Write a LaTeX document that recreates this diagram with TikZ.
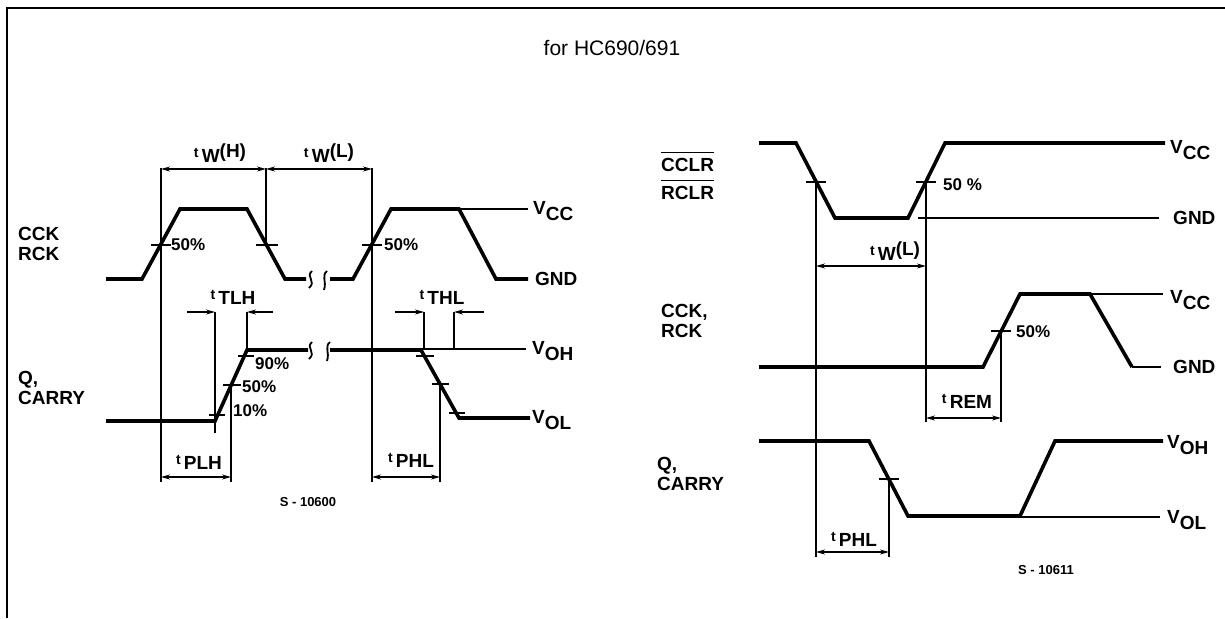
\documentclass[tikz,border=0pt]{standalone}
\usepackage{fontspec}
\setmainfont{Liberation Sans}
\usetikzlibrary{arrows.meta,calc}

\newcommand\lvl[2]{#1\raisebox{-0.55ex}{#2}}
\newcommand\tsub[1]{{\fontsize{14}{14}\selectfont t}\,\raisebox{-0.5ex}{#1}}

\begin{document}
\begin{tikzpicture}[x=1pt, y=-1pt,
    wave/.style={line width=3.6pt, line join=miter},
    thinline/.style={line width=1.1pt},
    brk/.style={line width=1.8pt},
    dim/.style={line width=1.2pt, {Stealth[length=9pt,width=5pt]}-{Stealth[length=9pt,width=5pt]}},
    dimin/.style={line width=1.2pt, -{Stealth[length=9pt,width=5pt]}},
    lab/.style={font=\bfseries\fontsize{19}{20}\selectfont, inner sep=0pt},
    pct/.style={font=\bfseries\fontsize{17}{17}\selectfont, inner sep=0pt, anchor=west},
    code/.style={font=\bfseries\fontsize{13}{13}\selectfont, inner sep=0pt}]
    \useasboundingbox (0,0) rectangle (1225,618);
    % frame
    \path[draw, line width=2.2pt](7,618)--(7,8)--(1225,8);
    \node[font=\fontsize{21}{21}\selectfont](title)at(612,48){for HC690/691};

    % left: clock
    \node[lab, anchor=west, align=left](clk)at(18,244){CCK\\RCK};
    \path[draw, wave](106,279)--(142,279)--(180,209)--(247,209)--(285,279)--(306,279);
    \path[draw, wave](330,279)--(353,279)--(391,209)--(459,209)--(496,279)--(528,279);
    \path[draw, brk](312,271)..controls(305,277)and(317,281)..(309,288);
    \path[draw, brk](327,271)..controls(321,276)and(327,281)..(324,290);
    \path[draw, thinline](459,209)--(528,209);
    \node[lab, anchor=west](vccA)at(533,211){\lvl{V}{CC}};
    \node[lab, anchor=west](gndA)at(535,279){GND};
    \path[draw, thinline](161,168)--(161,482);
    \path[draw, thinline](266,168)--(266,245);
    \path[draw, thinline](372,168)--(372,482);
    \path[draw, dim](161,169)--(266,169);
    \path[draw, dim](266,169)--(372,169);
    \node[lab](twH)at(220,153){\tsub{W}(H)};
    \node[lab](twLa)at(329,153){\tsub{W}(L)};
    \path[draw, thinline](151,245)--(171,245);
    \path[draw, thinline](256,245)--(278,245);
    \path[draw, thinline](362,245)--(382,245);
    \node[pct](pA)at(171,245){50\%};
    \node[pct](pB)at(384,245){50\%};

    % left: output
    \node[lab, anchor=west, align=left](qA)at(18,388){Q,\\CARRY};
    \path[draw, wave](106,421)--(215,421)--(247,350)--(308,350);
    \path[draw, wave](330,350)--(421,350)--(459,418)--(530,418);
    \path[draw, brk](312,342)..controls(305,348)and(317,352)..(309,359);
    \path[draw, brk](330,342)..controls(324,347)and(330,352)..(327,361);
    \path[draw, thinline](421,349)--(526,349);
    \node[lab, anchor=west](vohA)at(532,351){\lvl{V}{OH}};
    \node[lab, anchor=west](volA)at(532,420){\lvl{V}{OL}};
    \path[draw, thinline](215,312)--(215,433);
    \path[draw, thinline](247,312)--(247,350);
    \path[draw, thinline](231,385)--(231,482);
    \path[draw, dimin](187,312)--(215,312);
    \path[draw, dimin](273,312)--(247,312);
    \node[lab](ttlh)at(233,297){\tsub{TLH}};
    \path[draw, dim](161,477)--(231,477);
    \node[lab](tplh)at(199,462){\tsub{PLH}};
    \path[draw, thinline](209,415)--(225,415);
    \path[draw, thinline](223,385)--(241,385);
    \path[draw, thinline](238,356)--(254,356);
    \node[pct](p90)at(255,364){90\%};
    \node[pct](p50)at(242,387){50\%};
    \node[pct](p10)at(233,411){10\%};
    \path[draw, thinline](424,312)--(424,350);
    \path[draw, thinline](454,312)--(454,349);
    \path[draw, dimin](395,312)--(424,312);
    \path[draw, dimin](484,312)--(454,312);
    \node[lab](tthl)at(442,297){\tsub{THL}};
    \path[draw, thinline](440,384)--(440,482);
    \path[draw, dim](372,477)--(440,477);
    \node[lab](tphlA)at(411,460){\tsub{PHL}};
    \path[draw, thinline](416,356)--(434,356);
    \path[draw, thinline](432,384)--(449,384);
    \path[draw, thinline](449,413)--(465,413);
    \node[code](sA)at(308,502){S - 10600};

    % right: clear
    \node[lab, anchor=west](cclr)at(661,165){CCLR};
    \node[lab, anchor=west](rclr)at(661,193){RCLR};
    \path[draw, thinline]([yshift=6pt]cclr.north west)--([yshift=6pt]cclr.north east);
    \path[draw, thinline]([yshift=6pt]rclr.north west)--([yshift=6pt]rclr.north east);
    \path[draw, wave](759,143)--(796,143)--(835,218)--(908,218)--(945,143)--(1165,143);
    \path[draw, thinline](918,218)--(1159,218);
    \node[lab, anchor=west](vccB)at(1170,150){\lvl{V}{CC}};
    \node[lab, anchor=west](gndB)at(1173,218){GND};
    \path[draw, thinline](816,182)--(816,557);
    \path[draw, thinline](926,182)--(926,422);
    \path[draw, thinline](806,182)--(826,182);
    \path[draw, thinline](916,182)--(936,182);
    \node[pct](pC)at(943,185){50 \%};
    \path[draw, dim](816,266)--(926,266);
    \node[lab](twLb)at(895,251){\tsub{W}(L)};

    % right: clock
    \node[lab, anchor=west, align=left](clkB)at(661,321){CCK,\\RCK};
    \path[draw, wave](759,367)--(983,367)--(1020,294)--(1090,294)--(1132,367);
    \path[draw, thinline](1132,367)--(1161,367);
    \path[draw, thinline](1090,294)--(1163,294);
    \node[lab, anchor=west](vccC)at(1170,300){\lvl{V}{CC}};
    \node[lab, anchor=west](gndC)at(1173,367){GND};
    \path[draw, thinline](1001,331)--(1001,422);
    \path[draw, thinline](991,331)--(1011,331);
    \node[pct](pD)at(1016,332){50\%};
    \path[draw, dim](926,418)--(1001,418);
    \node[lab](trem)at(967,401){\tsub{REM}};

    % right: output
    \node[lab, anchor=west, align=left](qB)at(657,474){Q,\\CARRY};
    \path[draw, wave](759,441)--(869,441)--(908,516)--(1020,516)--(1055,441)--(1163,441);
    \path[draw, thinline](1020,517)--(1160,517);
    \node[lab, anchor=west](vohB)at(1167,445){\lvl{V}{OH}};
    \node[lab, anchor=west](volB)at(1167,520){\lvl{V}{OL}};
    \path[draw, thinline](889,479)--(889,557);
    \path[draw, thinline](879,479)--(899,479);
    \path[draw, dim](816,552)--(889,552);
    \node[lab](tphlB)at(854,539){\tsub{PHL}};
    \node[code](sB)at(1046,570){S - 10611};
\end{tikzpicture}
\end{document}
